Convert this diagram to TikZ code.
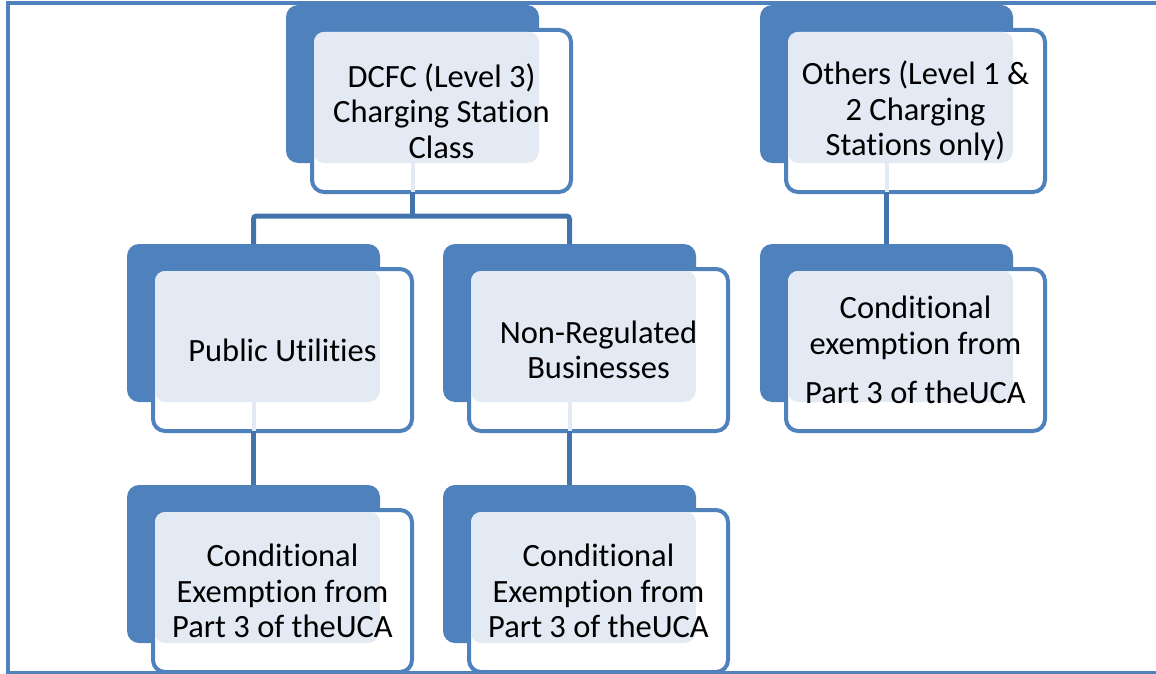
\documentclass[tikz,border=0pt]{standalone}
\usepackage{fontspec}
\setmainfont{Carlito}[Ligatures=NoCommon]
\usetikzlibrary{calc}
\definecolor{accent}{HTML}{4F81BD}
\definecolor{connc}{HTML}{4373AD}
\definecolor{stip}{HTML}{E3EAF4}
\tikzset{
  backbox/.style={fill=accent, rounded corners=12pt, minimum width=253pt, minimum height=158pt, inner sep=0pt, outer sep=0pt, anchor=north west},
  frontbox/.style={draw=accent, line width=4pt, fill=white, rounded corners=12pt, minimum width=259pt, minimum height=162pt, inner sep=0pt, outer sep=0pt, anchor=north west},
  boxtext/.style={align=center, font=\fontsize{32.5}{35.5}\selectfont, text=black, inner sep=0pt},
  conn/.style={draw=connc, line width=5pt},
  ghost/.style={draw=stip, line width=4pt},
  frameline/.style={draw=accent, line width=4pt}
}
\newcommand\unitbox[4]{%
  \node[backbox] (#1b) at (#2,#3) {};
  \node[frontbox] (#1f) at ($(#2,#3)+(26,25)$) {};
  \begin{scope}
    \clip[rounded corners=12pt] (#1b.north west) rectangle (#1b.south east);
    \fill[stip, rounded corners=10pt] ([shift={(2,2)}]#1f.north west) rectangle (#1b.south east);
  \end{scope}
  \node[boxtext] (#1t) at (#1f.center) {#4};
}
\begin{document}
\begin{tikzpicture}[x=1pt, y=-1pt]
\useasboundingbox (0,0) rectangle (1156,674);
\unitbox{d}{286}{5}{DCFC (Level 3)\\Charging Station\\Class}
\unitbox{o}{760}{5}{Others (Level 1 \&\\2 Charging\\Stations only)}
\unitbox{pu}{127}{244}{Public Utilities}
\unitbox{nr}{443}{244}{Non-Regulated\\Businesses}
\unitbox{ce}{760}{244}{Conditional\\exemption from\\[14pt]Part 3 of theUCA}
\unitbox{bl}{127}{485}{Conditional\\Exemption from\\Part 3 of theUCA}
\unitbox{bm}{443}{485}{Conditional\\Exemption from\\Part 3 of theUCA}
% faint continuations behind the front boxes
\foreach \n in {d,o,pu,nr}{
  \draw[ghost] (\n b.south) -- (\n b.south |- \n f.south);
}
% connectors
\coordinate (j) at (412,216);
\draw[conn] (db.south |- df.south) -- (db.south |- j);
\draw[conn, rounded corners=3pt] (pub.north) |- (j) -| (nrb.north);
\draw[conn] (ob.south |- of.south) -- (ceb.north);
\draw[conn] (pub.south |- puf.south) -- (blb.north);
\draw[conn] (nrb.south |- nrf.south) -- (bmb.north);
% frame
\draw[frameline] (1156,3) -- (7.5,3) -- (7.5,672.5) -- (1156,672.5);
\end{tikzpicture}
\end{document}
